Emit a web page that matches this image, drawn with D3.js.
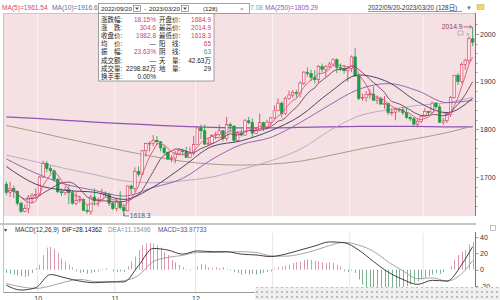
<!DOCTYPE html>
<html>
<head>
<meta charset="utf-8">
<title>K线 MACD</title>
<script src="https://cdn.jsdelivr.net/npm/d3@7"></script>
<style>
    body { margin: 0; background: #fff; }
    svg { display: block; font-family: "Liberation Sans", "Noto Sans CJK SC", sans-serif; }
</style>
</head>
<body>
<script>
var width = 500, height = 300;

// daily candles 2022/09/20 - 2023/03/20: [open, high, low, close]
var candles = [
    [1684.9,1690,1662,1668],[1668,1690,1658,1676],[1676,1682,1656,1670],[1670,1672,1640,1645],
    [1645,1648,1625,1628],[1628,1642,1626,1634],[1634,1662,1624,1658],[1658,1666,1645,1662],
    [1662,1676,1655,1663],
    [1663,1702,1660,1700],[1700,1734,1698,1728],[1728,1733,1710,1718],[1718,1724,1707,1713],
    [1713,1716,1690,1695],[1695,1698,1666,1669],[1669,1676,1660,1667],[1667,1680,1662,1674],
    [1674,1684,1643,1667],[1667,1672,1642,1645],[1645,1668,1641,1651],[1651,1661,1646,1653],
    [1653,1655,1629,1630],[1630,1642,1623,1628],[1628,1663,1621,1658],[1658,1676,1640,1650],
    [1650,1657,1638,1653],[1653,1675,1651,1666],[1666,1670,1657,1664],[1664,1667,1639,1645],
    [1645,1649,1630,1634],
    [1634,1656,1628,1648],[1648,1670,1632,1636],[1636,1643,1618.3,1629],[1629,1682,1628,1681],
    [1681,1684,1664,1676],[1676,1720,1669,1712],[1712,1722,1701,1706],[1706,1757,1704,1755],
    [1755,1772,1743,1770],[1770,1775,1754,1771],[1771,1788,1765,1777],[1777,1786,1766,1774],
    [1774,1775,1754,1761],[1761,1767,1747,1751],[1751,1753,1735,1738],[1738,1746,1731,1740],
    [1740,1755,1729,1750],[1750,1760,1748,1755],[1755,1759,1745,1754],[1754,1763,1741,1741],
    [1741,1763,1740,1750],[1750,1786,1745,1768],
    [1768,1804,1767,1803],[1803,1810,1780,1797],[1797,1810,1767,1769],[1769,1782,1765,1771],
    [1771,1790,1769,1787],[1787,1795,1779,1789],[1789,1810,1785,1797],[1797,1798,1775,1781],
    [1781,1826,1776,1810],[1810,1814,1795,1807],[1807,1808,1773,1777],[1777,1797,1774,1792],
    [1792,1800,1785,1788],[1788,1822,1786,1818],[1818,1826,1811,1814],[1814,1823,1784,1792],
    [1792,1801,1790,1797],[1797,1833,1797,1814],[1814,1816,1796,1805],[1805,1820,1802,1815],
    [1815,1826,1808,1824],
    [1824,1850,1822,1839],[1839,1865,1838,1855],[1855,1858,1825,1833],[1833,1869,1830,1865],
    [1865,1881,1862,1872],[1872,1882,1866,1877],[1877,1883,1867,1875],[1875,1901,1867,1897],
    [1897,1922,1893,1920],[1920,1930,1911,1917],[1917,1925,1901,1909],[1909,1924,1896,1904],
    [1904,1935,1898,1932],[1932,1938,1920,1926],[1926,1935,1911,1931],[1931,1942,1928,1937],
    [1937,1949,1932,1946],[1946,1949,1918,1930],[1930,1938,1922,1928],[1928,1935,1917,1923],
    [1923,1932,1900,1928],
    [1928,1955,1920,1952],[1952,1970,1911,1912],[1912,1917,1861,1865],[1865,1875,1860,1867],
    [1867,1880,1858,1873],[1873,1884,1864,1874],[1874,1890,1860,1861],[1861,1871,1853,1864],
    [1864,1868,1852,1853],[1853,1870,1843,1854],[1854,1856,1830,1835],[1835,1844,1829,1836],
    [1836,1846,1819,1842],[1842,1845,1836,1841],[1841,1847,1830,1835],[1835,1845,1822,1825],
    [1825,1829,1817,1822],[1822,1826,1808,1811],[1811,1823,1804,1817],[1817,1830,1813,1827],
    [1827,1845,1827,1837],[1837,1839,1829,1836],[1836,1858,1834,1855],[1855,1857,1843,1847],
    [1847,1852,1813,1815],[1815,1824,1809,1818],[1818,1836,1813,1831],[1831,1870,1826,1867],
    [1867,1914,1864,1913],[1913,1918,1893,1900],[1900,1940,1896,1936],[1936,1948,1925,1945],
    [1945,1995,1938,1990],[1990,2014.9,1975,1982.8]
];

// longer averages at every 8th candle
var maIdx = [0, 8, 16, 24, 32, 40, 48, 56, 64, 72, 80, 88, 96, 104, 112, 120, 127];
var ma20 = [1722, 1685, 1672, 1668, 1653, 1679, 1721, 1764, 1776, 1797, 1828, 1877, 1914, 1899, 1858, 1835, 1865];
var ma30 = [1738, 1708, 1685, 1672, 1660, 1678, 1697, 1737, 1768, 1783, 1814, 1851, 1884, 1896, 1881, 1856, 1861];
var ma60 = [1746, 1732, 1718, 1705, 1692, 1688, 1692, 1700, 1716, 1734, 1758, 1797, 1828, 1841, 1850, 1856, 1867];
var ma120 = [1808, 1795, 1781, 1768, 1755, 1743, 1733, 1727, 1725, 1727, 1733, 1745, 1758, 1770, 1781, 1793, 1807];
var ma250 = [1826, 1823, 1819, 1815, 1812, 1809, 1806, 1804, 1803, 1803, 1804, 1805, 1806, 1806, 1806, 1805, 1805];

// MACD(12,26,9)
var macdHist = [
    -4, -5, -6, -7, -8, -9, -8, -4, 2,
    6, 18, 27, 28, 25, 20, 14,
    10, 6, 3, -2, -4, -3, -5, -4, -3, -2, 1, 2, 0, -2, -3, -2, -3,
    4, 10, 16, 24, 30, 32, 33, 32, 30, 27, 22, 18,
    12, 9, 6, 3, 1, -1, 0, 4, 7, 6, 3, 2, 3, 2, 3, 1, -1, -3, -4, -6, -5, -6, -5, -6,
    -5, -4, -3, -2, 1, 3, 4, 5, 6, 8, 9, 10, 12, 13, 12, 11, 10, 9, 8, 9, 8, 6, 4,
    -2, -3, -1, -4, -12, -18, -22, -24, -25, -25, -26, -25, -25, -24, -24, -22, -21, -20,
    -18, -16, -14, -12, -10, -8, -6, -4, -5, -3, 0, 4, 12, 18, 22, 24, 31, 33.98
];
var lineIdx = [0, 4, 8, 12, 16, 20, 24, 28, 32, 36, 40, 44, 48, 52, 56, 60, 64, 68, 72, 76,
    80, 84, 88, 92, 96, 100, 104, 108, 112, 116, 120, 124, 127];
var difVals = [-19, -25, -22, -6, -10, -14, -16, -15, -15, 5, 26, 24, 19, 23, 22, 22, 19, 18, 16, 19,
    24, 29, 34, 33, 24, 10, -3, -12, -18, -13, -14, 6, 28.14];
var deaVals = [-17, -21, -23, -20, -15, -12, -14.5, -15, -13.5, -7, 10, 15, 17.5, 21, 21, 21.5, 22, 21, 17, 16.5,
    19, 23.5, 29.5, 33.5, 30, 22.5, 9.5, -1.5, -11, -10, -14, -5, 11.15];

var monthStarts = [9, 30, 52, 73, 94, 114];
var monthLabels = ["10", "11", "12", "1", "2", "3"];
var priceTicks = [1700, 1800, 1900, 2000];
var macdTicks = [-20, 0, 20, 40];

var statLeft = [
    ["涨跌幅:", "18.15%", "#d0406a"], ["涨　跌:", "304.6", "#d0406a"], ["收盘价:", "1982.8", "#d0406a"],
    ["均　价:", "—", "#333"], ["振　幅:", "23.63%", "#d0406a"], ["成交额:", "—", "#333"],
    ["成交量:", "2298.82万", "#222"], ["换手率:", "0.00%", "#222"]
];
var statRight = [
    ["开盘价:", "1684.9", "#d0406a"], ["最高价:", "2014.9", "#d0406a"], ["最低价:", "1618.3", "#d0406a"],
    ["阳　线:", "65", "#d0406a"], ["阴　线:", "63", "#2f9a86"], ["天　量:", "42.63万", "#222"],
    ["地　量:", "29", "#222"]
];

var closes = candles.map(function (d) { return d[3]; });
function movingAvg(n) {
    return closes.map(function (c, i) {
        return d3.mean(closes.slice(Math.max(0, i - n + 1), i + 1));
    });
}

var x = d3.scaleBand().domain(d3.range(candles.length)).range([4, 475]).padding(0.3);
function cx(i) { return x(i) + x.bandwidth() / 2; }
var y = d3.scaleLinear().domain([1700, 2000]).range([177, 34]);
var ym = d3.scaleLinear().domain([-20, 40]).range([286, 237]);

var svg = d3.select("body").append("svg")
        .attr("width", width)
        .attr("height", height);

var defs = svg.append("defs");
defs.append("clipPath").attr("id", "main")
    .append("rect").attr("x", 4).attr("y", 13).attr("width", 471).attr("height", 203);
defs.append("clipPath").attr("id", "hdrL")
    .append("rect").attr("x", 0).attr("y", 0).attr("width", 98).attr("height", 13);
defs.append("clipPath").attr("id", "hdrR")
    .append("rect").attr("x", 250).attr("y", 0).attr("width", 110).attr("height", 13);
var checker = defs.append("pattern").attr("id", "checker")
    .attr("width", 5).attr("height", 5).attr("patternUnits", "userSpaceOnUse");
checker.append("rect").attr("width", 5).attr("height", 5).attr("fill", "#efefef");
checker.append("path").attr("d", "M1,1L3,3M3,1L1,3").attr("stroke", "#a8a8a8").attr("stroke-width", 0.7);

// background panels
svg.append("rect").attr("x", 4).attr("y", 13).attr("width", 471).attr("height", 203)
    .attr("fill", "#f5e0e3");
svg.append("line").attr("x1", 4).attr("x2", 475).attr("y1", 13.5).attr("y2", 13.5)
    .attr("stroke", "#e3bcc3");
svg.append("line").attr("x1", 0).attr("x2", 476).attr("y1", 224).attr("y2", 224)
    .attr("stroke", "#8c8c8c").attr("stroke-width", 1.2);

// month grid
svg.selectAll(".vgrid").data(monthStarts).enter().append("line")
    .attr("x1", function (d) { return x(d) - 0.5; })
    .attr("x2", function (d) { return x(d) - 0.5; })
    .attr("y1", 14).attr("y2", 216)
    .attr("stroke", "#fbf3f4").attr("stroke-width", 1);
svg.selectAll(".mgrid").data(monthStarts).enter().append("line")
    .attr("x1", function (d) { return x(d) - 0.5; })
    .attr("x2", function (d) { return x(d) - 0.5; })
    .attr("y1", 233).attr("y2", 292)
    .attr("stroke", "#e6e6e6");

svg.append("line").attr("x1", 3.5).attr("x2", 3.5).attr("y1", 13).attr("y2", 293)
    .attr("stroke", "#c4c4c4");

var g = svg.append("g").attr("clip-path", "url(#main)");

function sparse(idx, vals) {
    return idx.map(function (d, k) { return [d, vals[k]]; });
}
var smooth = d3.line()
        .x(function (d) { return cx(d[0]); })
        .y(function (d) { return y(d[1]); })
        .curve(d3.curveMonotoneX);

[[ma250, "#9353b3", 1.3], [ma120, "#a89c84", 1], [ma60, "#b7aec8", 1]].forEach(function (m) {
    g.append("path").attr("d", smooth(sparse(maIdx, m[0])))
        .attr("fill", "none").attr("stroke", m[1]).attr("stroke-width", m[2]);
});

// candles
var up = "#d23a5c", down = "#1f9a45";
var c = g.selectAll(".candle").data(candles).enter().append("g");
c.append("line")
    .attr("x1", function (d, i) { return cx(i); })
    .attr("x2", function (d, i) { return cx(i); })
    .attr("y1", function (d) { return y(d[1]); })
    .attr("y2", function (d) { return y(d[2]); })
    .attr("stroke", function (d) { return d[3] >= d[0] ? up : down; })
    .attr("stroke-width", 0.8);
c.append("rect")
    .attr("x", function (d, i) { return x(i); })
    .attr("width", x.bandwidth())
    .attr("y", function (d) { return y(Math.max(d[0], d[3])); })
    .attr("height", function (d) { return Math.max(0.8, Math.abs(y(d[0]) - y(d[3]))); })
    .attr("fill", function (d) { return d[3] >= d[0] ? "#fbeef1" : down; })
    .attr("stroke", function (d) { return d[3] >= d[0] ? up : down; })
    .attr("stroke-width", 0.6);

[[ma30, "#8d5aa9"], [ma20, "#34345e"]].forEach(function (m) {
    g.append("path").attr("d", smooth(sparse(maIdx, m[0])))
        .attr("fill", "none").attr("stroke", m[1]).attr("stroke-width", 0.9);
});
var straight = d3.line()
        .x(function (d, i) { return cx(i); })
        .y(function (d) { return y(d); });
[[movingAvg(10), "#7a3b62"], [movingAvg(5), "#df5477"]].forEach(function (m) {
    g.append("path").attr("d", straight(m[0]))
        .attr("fill", "none").attr("stroke", m[1]).attr("stroke-width", 0.9);
});

// high / low markers
var hi = d3.maxIndex(candles, function (d) { return d[1]; });
var lo = d3.minIndex(candles, function (d) { return d[2]; });
svg.append("text").attr("x", cx(hi) - 10).attr("y", y(candles[hi][1]) + 2.5)
    .attr("text-anchor", "end").attr("font-size", 6.8).attr("fill", "#9a3c5c")
    .text(d3.format(".1f")(candles[hi][1]));
svg.append("path")
    .attr("d", "M" + (cx(hi) - 9) + "," + y(candles[hi][1]) + "H" + (cx(hi) - 1) +
        "M" + (cx(hi) - 3) + "," + (y(candles[hi][1]) - 1.5) + "L" + (cx(hi) - 1) + "," + y(candles[hi][1]) +
        "L" + (cx(hi) - 3) + "," + (y(candles[hi][1]) + 1.5))
    .attr("fill", "none").attr("stroke", "#9a3c5c").attr("stroke-width", 0.7);
svg.append("rect").attr("x", 458).attr("y", 31).attr("width", 5).attr("height", 4)
    .attr("fill", "none").attr("stroke", "#999").attr("stroke-width", 0.6);
svg.append("text").attr("x", 466).attr("y", 35.5).attr("font-size", 6).attr("fill", "#999").text("×");

svg.append("path")
    .attr("d", "M" + cx(lo) + "," + (y(candles[lo][2]) - 3) + "V" + y(candles[lo][2]) + "H" + (cx(lo) + 5))
    .attr("fill", "none").attr("stroke", "#4b5470").attr("stroke-width", 0.7);
svg.append("text").attr("x", cx(lo) + 6).attr("y", y(candles[lo][2]) + 2.5)
    .attr("font-size", 6.8).attr("fill", "#4b5470")
    .text(d3.format(".1f")(candles[lo][2]));

// right price axis
svg.append("line").attr("x1", 475.5).attr("x2", 475.5).attr("y1", 13).attr("y2", 216).attr("stroke", "#777");
svg.selectAll(".pminor").data(d3.range(1640, 2040, 20)).enter().append("line")
    .attr("x1", 475.5).attr("x2", function (d) { return d % 100 === 0 ? 479 : 477.5; })
    .attr("y1", function (d) { return Math.round(y(d)) + 0.5; })
    .attr("y2", function (d) { return Math.round(y(d)) + 0.5; })
    .attr("stroke", "#777").attr("stroke-width", 0.7);
svg.selectAll(".plabel").data(priceTicks).enter().append("text")
    .attr("x", 480).attr("y", function (d) { return y(d) + 2.5; })
    .attr("font-size", 7).attr("fill", "#333").text(function (d) { return d; });

// header moving-average values (partly covered by the statistics box)
var header = [["MA(5)=1961.54", 2, "#d7446a", null], ["MA(10)=1916.62", 52, "#5b6aa5", "hdrL"],
    ["MA(120)=1807.08", 210, "#7aa898", "hdrR"], ["MA(250)=1805.29", 265, "#a24fb0", null]];
svg.selectAll(".hdr").data(header).enter().append("text")
    .attr("x", function (d) { return d[1]; }).attr("y", 10)
    .attr("font-size", 6.6).attr("fill", function (d) { return d[2]; })
    .attr("clip-path", function (d) { return d[3] ? "url(#" + d[3] + ")" : null; })
    .text(function (d) { return d[0]; });
svg.append("text").attr("x", 368).attr("y", 10).attr("font-size", 6.4).attr("fill", "#333")
    .text("2022/09/20-2023/03/20 (128日)");
svg.append("line").attr("x1", 368).attr("x2", 462).attr("y1", 11.5).attr("y2", 11.5)
    .attr("stroke", "#555").attr("stroke-width", 0.6);
svg.append("text").attr("x", 466).attr("y", 10).attr("font-size", 6).attr("fill", "#6a7088").text("▼");
svg.append("rect").attr("x", 477).attr("y", 4.5).attr("width", 7).attr("height", 5)
    .attr("fill", "#f2d66e").attr("stroke", "#c9aa45").attr("stroke-width", 0.5);

// interval statistics box
var box = svg.append("g");
box.append("rect").attr("x", 98.5).attr("y", 3.5).attr("width", 151).attr("height", 10)
    .attr("fill", "#fff").attr("stroke", "#8a8a8a").attr("stroke-width", 0.8);
box.append("rect").attr("x", 98.5).attr("y", 13.5).attr("width", 115.5).attr("height", 67.5)
    .attr("fill", "#fff").attr("stroke", "#8a8a8a").attr("stroke-width", 0.8);
var title = [["2022/09/20", 101, "#222"], ["-", 144, "#222"], ["2023/03/20", 149, "#222"],
    ["(128)", 203, "#222"], ["×", 240, "#888"]];
title.forEach(function (t) {
    box.append("text").attr("x", t[1]).attr("y", 11).attr("font-size", 6.2).attr("fill", t[2]).text(t[0]);
});
[133, 181].forEach(function (bx) {
    box.append("rect").attr("x", bx + 0.5).attr("y", 5.5).attr("width", 7).attr("height", 6)
        .attr("fill", "#fff").attr("stroke", "#666").attr("stroke-width", 0.6);
    box.append("path").attr("d", "M" + (bx + 2) + ",7.5L" + (bx + 4) + ",10L" + (bx + 6) + ",7.5Z")
        .attr("fill", "#555");
});
statLeft.forEach(function (r, k) {
    var ty = 21.5 + k * 8.2;
    box.append("text").attr("x", 101).attr("y", ty).attr("font-size", 6.5).attr("fill", "#222").text(r[0]);
    box.append("text").attr("x", 156).attr("y", ty).attr("text-anchor", "end")
        .attr("font-size", 6.5).attr("fill", r[2]).text(r[1]);
});
statRight.forEach(function (r, k) {
    var ty = 21.5 + k * 8.2;
    box.append("text").attr("x", 159).attr("y", ty).attr("font-size", 6.5).attr("fill", "#222").text(r[0]);
    box.append("text").attr("x", 211).attr("y", ty).attr("text-anchor", "end")
        .attr("font-size", 6.5).attr("fill", r[2]).text(r[1]);
});

// MACD panel
var mh = [["▾", 4, "#444"], ["MACD(12,26,9)", 15, "#333"], ["DIF=28.14362", 62, "#222"],
    ["DEA=11.15496", 108, "#8a8fa0"], ["MACD=33.97733", 158, "#4c4f8c"]];
svg.selectAll(".mh").data(mh).enter().append("text")
    .attr("x", function (d) { return d[1]; }).attr("y", 231.5)
    .attr("font-size", 6.3).attr("fill", function (d) { return d[2]; })
    .text(function (d) { return d[0]; });

svg.selectAll(".hist").data(macdHist).enter().append("line")
    .attr("x1", function (d, i) { return Math.round(cx(i)) + 0.5; })
    .attr("x2", function (d, i) { return Math.round(cx(i)) + 0.5; })
    .attr("y1", ym(0))
    .attr("y2", function (d) { return ym(d); })
    .attr("stroke", function (d) { return d >= 0 ? "#d98ba0" : "#6fa882"; })
    .attr("stroke-width", 0.9);

var mline = d3.line()
        .x(function (d) { return cx(d[0]); })
        .y(function (d) { return ym(d[1]); })
        .curve(d3.curveMonotoneX);
svg.append("path").attr("d", mline(sparse(lineIdx, deaVals)))
    .attr("fill", "none").attr("stroke", "#9a9a9a").attr("stroke-width", 0.9);
svg.append("path").attr("d", mline(sparse(lineIdx, difVals)))
    .attr("fill", "none").attr("stroke", "#2a2a2a").attr("stroke-width", 0.9);

svg.append("line").attr("x1", 475.5).attr("x2", 475.5).attr("y1", 232).attr("y2", 293).attr("stroke", "#777");
svg.selectAll(".mtick").data(macdTicks).enter().append("line")
    .attr("x1", 475.5).attr("x2", 478.5)
    .attr("y1", function (d) { return Math.round(ym(d)) + 0.5; })
    .attr("y2", function (d) { return Math.round(ym(d)) + 0.5; })
    .attr("stroke", "#777").attr("stroke-width", 0.7);
svg.selectAll(".mlabel").data(macdTicks).enter().append("text")
    .attr("x", 480).attr("y", function (d) { return ym(d) + 2.5; })
    .attr("font-size", 7).attr("fill", "#333").text(function (d) { return d; });
svg.append("rect").attr("x", 490.5).attr("y", 225.5).attr("width", 5).attr("height", 5)
    .attr("fill", "none").attr("stroke", "#999").attr("stroke-width", 0.6);

// time axis
svg.append("line").attr("x1", 4).attr("x2", 476).attr("y1", 292.5).attr("y2", 292.5).attr("stroke", "#999");
svg.selectAll(".xt").data(monthStarts).enter().append("text")
    .attr("x", function (d) { return x(d); }).attr("y", 300.5)
    .attr("text-anchor", "middle").attr("font-size", 7).attr("fill", "#333")
    .text(function (d, k) { return monthLabels[k]; });

svg.append("rect").attr("x", 255).attr("y", 287).attr("width", 245).attr("height", 13)
    .attr("fill", "url(#checker)");
</script>
</body>
</html>
